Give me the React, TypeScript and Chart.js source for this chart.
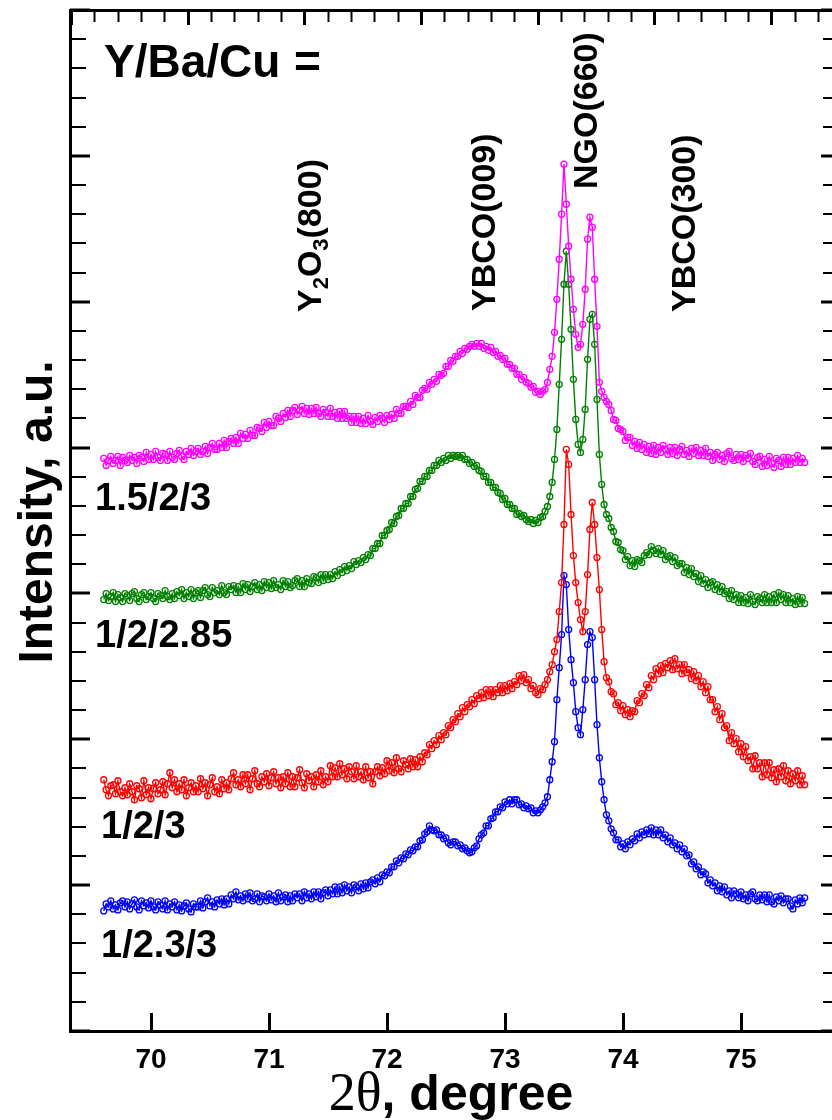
import { useEffect, useRef } from 'react';
import { Chart, registerables } from 'chart.js';

Chart.register(...registerables);

// 2-theta grid (degrees), 0.02 deg step from 69.60 to 75.54
const ANGLE_START = 69.6;
const ANGLE_STEP = 0.02;
const ANGLE_COUNT = 298;
const angles: number[] = Array.from({ length: ANGLE_COUNT }, (_, i) => +(ANGLE_START + i * ANGLE_STEP).toFixed(2));

// Intensity, a.u. (curves offset vertically as in the figure); one row = 0.2 deg
const intensity_1_5_2_3 = [
  572, 565, 570, 574, 567, 570, 574, 565, 573, 570,
  568, 575, 570, 573, 567, 575, 573, 569, 578, 571,
  576, 571, 579, 573, 570, 577, 576, 570, 579, 573,
  571, 577, 580, 574, 571, 579, 576, 582, 575, 579,
  582, 576, 579, 584, 577, 583, 587, 581, 581, 587,
  583, 590, 583, 589, 592, 587, 593, 587, 597, 592,
  596, 592, 600, 595, 595, 603, 602, 599, 608, 603,
  609, 605, 605, 614, 612, 609, 617, 613, 620, 614,
  620, 623, 616, 620, 624, 617, 622, 616, 622, 617,
  623, 617, 614, 621, 618, 614, 622, 614, 618, 612,
  619, 612, 619, 612, 614, 608, 614, 608, 614, 607,
  612, 607, 615, 609, 606, 613, 609, 615, 612, 608,
  615, 611, 616, 612, 621, 617, 617, 624, 624, 623,
  629, 626, 635, 633, 633, 640, 642, 641, 648, 646,
  651, 649, 656, 655, 657, 664, 664, 670, 669, 674,
  674, 679, 677, 682, 681, 684, 686, 684, 687, 684,
  687, 682, 684, 680, 683, 678, 679, 674, 675, 671,
  672, 666, 666, 662, 662, 656, 656, 651, 653, 648,
  647, 643, 644, 638, 639, 636, 639, 641, 648, 661,
  674, 698, 731, 771, 816, 866, 826, 784, 751, 721,
  696, 683, 686, 706, 741, 791, 813, 803, 751, 704,
  648, 639, 633, 629, 626, 620, 611, 610, 602, 601,
  599, 590, 593, 593, 585, 589, 582, 588, 581, 586,
  578, 584, 577, 585, 576, 583, 578, 585, 581, 576,
  583, 577, 583, 575, 581, 584, 576, 580, 574, 582,
  577, 583, 575, 580, 575, 582, 574, 578, 570, 576,
  578, 571, 575, 569, 577, 579, 572, 570, 576, 571,
  576, 569, 575, 572, 577, 569, 566, 573, 574, 564,
  571, 565, 574, 567, 563, 572, 570, 564, 573, 566,
  573, 566, 572, 568, 575, 568, 572, 568,
];

const intensity_1_2_2_85 = [
  431, 437, 430, 434, 438, 429, 436, 433, 429, 437,
  435, 430, 437, 439, 432, 429, 436, 438, 431, 434,
  438, 432, 429, 437, 435, 432, 440, 434, 431, 437,
  432, 439, 435, 441, 432, 438, 434, 441, 432, 438,
  440, 433, 440, 443, 436, 434, 443, 438, 440, 436,
  445, 438, 436, 444, 441, 445, 438, 444, 438, 447,
  441, 446, 439, 444, 448, 441, 446, 440, 449, 443,
  448, 442, 450, 443, 446, 441, 450, 444, 449, 443,
  445, 450, 452, 444, 450, 444, 452, 448, 447, 454,
  453, 448, 456, 450, 456, 451, 456, 452, 459, 455,
  461, 458, 464, 460, 465, 462, 469, 466, 470, 468,
  473, 471, 476, 475, 482, 482, 487, 487, 495, 495,
  500, 501, 508, 507, 514, 515, 522, 522, 527, 527,
  534, 534, 541, 542, 549, 549, 554, 554, 560, 560,
  565, 565, 570, 568, 572, 570, 575, 572, 575, 574,
  575, 573, 575, 571, 571, 567, 568, 564, 565, 560,
  559, 554, 554, 548, 548, 543, 543, 538, 537, 531,
  532, 526, 526, 522, 522, 516, 517, 514, 515, 511,
  509, 511, 507, 510, 508, 513, 514, 519, 524, 534,
  548, 571, 601, 646, 691, 746, 779, 746, 701, 651,
  611, 586, 578, 591, 621, 671, 711, 716, 686, 631,
  576, 546, 526, 516, 512, 503, 499, 489, 488, 481,
  480, 471, 474, 465, 470, 464, 471, 470, 468, 475,
  478, 476, 484, 480, 477, 482, 476, 480, 471, 474,
  475, 469, 473, 465, 467, 467, 458, 463, 456, 462,
  454, 457, 449, 455, 447, 451, 443, 448, 449, 441,
  446, 439, 444, 437, 439, 432, 440, 431, 436, 428,
  435, 428, 433, 427, 436, 429, 426, 434, 432, 428,
  436, 428, 434, 428, 436, 428, 438, 431, 436, 428,
  435, 428, 432, 426, 434, 427, 433, 427,
];

const intensity_1_2_3 = [
  251, 241, 235, 245, 246, 237, 250, 239, 235, 243,
  236, 247, 239, 231, 245, 242, 233, 250, 236, 243,
  232, 242, 248, 237, 241, 249, 236, 247, 258, 243,
  251, 239, 247, 241, 251, 235, 243, 248, 239, 245,
  239, 252, 242, 248, 235, 246, 253, 239, 244, 237,
  251, 242, 248, 241, 252, 258, 246, 251, 244, 256,
  247, 256, 241, 252, 260, 247, 244, 254, 249, 257,
  245, 253, 259, 247, 253, 243, 254, 247, 258, 244,
  254, 244, 253, 261, 248, 243, 257, 250, 254, 244,
  256, 249, 260, 246, 254, 249, 265, 254, 263, 254,
  267, 256, 262, 252, 264, 259, 252, 265, 254, 259,
  251, 264, 253, 259, 247, 259, 264, 255, 263, 257,
  270, 260, 268, 258, 273, 262, 259, 270, 266, 262,
  272, 264, 271, 264, 274, 269, 278, 276, 286, 282,
  290, 286, 295, 291, 298, 296, 305, 303, 311, 309,
  317, 314, 323, 319, 326, 324, 331, 327, 335, 332,
  338, 333, 341, 335, 341, 334, 341, 338, 345, 338,
  345, 340, 347, 342, 349, 346, 355, 350, 356, 348,
  351, 342, 345, 338, 336, 342, 341, 346, 351, 359,
  366, 379, 391, 419, 448, 506, 581, 566, 516, 475,
  448, 428, 411, 399, 419, 456, 501, 528, 506, 473,
  441, 401, 369, 353, 349, 339, 337, 326, 328, 320,
  325, 316, 321, 314, 320, 319, 330, 328, 337, 335,
  346, 343, 355, 351, 362, 357, 365, 358, 367, 363,
  370, 361, 372, 362, 366, 357, 366, 358, 361, 352,
  359, 350, 355, 344, 349, 338, 344, 331, 331, 319,
  324, 311, 317, 303, 305, 290, 298, 287, 292, 279,
  287, 274, 284, 270, 274, 262, 275, 262, 268, 254,
  268, 256, 268, 253, 261, 249, 262, 254, 265, 250,
  260, 247, 257, 250, 260, 246, 255, 246,
];

const intensity_1_2_3_3 = [
  120, 127, 124, 130, 122, 126, 121, 128, 130, 124,
  129, 122, 127, 131, 124, 121, 130, 125, 128, 123,
  130, 124, 121, 129, 126, 122, 130, 121, 127, 124,
  129, 121, 126, 120, 125, 128, 122, 119, 127, 124,
  124, 130, 123, 129, 133, 125, 129, 124, 131, 127,
  132, 126, 132, 127, 136, 132, 139, 131, 135, 130,
  137, 132, 138, 130, 132, 137, 129, 135, 134, 130,
  137, 131, 135, 129, 138, 130, 134, 136, 129, 135,
  130, 137, 133, 137, 130, 139, 133, 137, 132, 139,
  134, 139, 132, 138, 141, 135, 141, 137, 144, 137,
  144, 138, 146, 140, 144, 138, 146, 144, 140, 147,
  142, 148, 143, 149, 151, 147, 153, 149, 156, 155,
  159, 158, 164, 164, 170, 168, 173, 172, 177, 176,
  181, 180, 184, 184, 190, 191, 197, 199, 205, 201,
  200, 201, 196, 196, 192, 193, 188, 186, 189, 189,
  185, 186, 182, 183, 180, 178, 179, 183, 185, 192,
  196, 198, 205, 205, 212, 213, 219, 219, 224, 223,
  229, 227, 231, 227, 231, 231, 226, 227, 223, 225,
  222, 223, 218, 220, 218, 221, 224, 228, 234, 251,
  269, 289, 331, 363, 396, 455, 446, 401, 371, 348,
  319, 303, 296, 321, 351, 386, 399, 393, 351, 306,
  273, 249, 231, 216, 210, 202, 198, 191, 191, 184,
  187, 182, 189, 186, 192, 190, 197, 193, 199, 196,
  201, 197, 203, 196, 201, 196, 201, 193, 196, 189,
  193, 186, 188, 182, 186, 179, 182, 175, 176, 167,
  169, 162, 164, 156, 159, 157, 148, 151, 145, 148,
  140, 145, 139, 144, 136, 140, 133, 140, 137, 133,
  139, 132, 136, 130, 137, 139, 132, 130, 136, 131,
  136, 129, 136, 129, 127, 134, 130, 135, 128, 132,
  132, 125, 122, 131, 127, 133, 128, 133,
];

const seriesLabels = ['1.5/2/3', '1/2/2.85', '1/2/3', '1/2.3/3'];
const seriesColors = ['#ff00ff', '#008000', '#ff0000', '#0000ff'];
const seriesValues = [intensity_1_5_2_3, intensity_1_2_2_85, intensity_1_2_3, intensity_1_2_3_3];

const xTickValues = [70, 71, 72, 73, 74, 75];
const X_MIN = 69.314;
const X_MAX = 75.78;
const Y_MIN = 0;
const Y_MAX = 1020;
const Y_MINOR_DIVS = 35;
const TOP_MIN = -1.0086;
const TOP_MAX = 5.5297;

const SANS = '"Liberation Sans", Arial, sans-serif';
const SERIF = '"Liberation Serif", "Times New Roman", serif';

const innerTicks = {
  id: 'innerTicks',
  afterDraw(chart: any) {
    const { ctx, chartArea: a, scales } = chart;
    ctx.save();
    ctx.strokeStyle = '#000';
    const seg = (x1: number, y1: number, x2: number, y2: number, w: number) => {
      ctx.lineWidth = w;
      ctx.beginPath();
      ctx.moveTo(x1, y1);
      ctx.lineTo(x2, y2);
      ctx.stroke();
    };
    scales.x.ticks.forEach((t: any) => {
      const px = Math.round(scales.x.getPixelForValue(t.value)) + 0.5;
      seg(px, a.bottom, px, a.bottom - 18, 3);
    });
    scales.x2.ticks.forEach((t: any) => {
      const major = Math.abs(t.value - Math.round(t.value)) < 1e-6;
      const px = Math.round(scales.x2.getPixelForValue(t.value)) + 0.5;
      seg(px, a.top, px, a.top + (major ? 15 : 12), major ? 3 : 2);
    });
    scales.y.ticks.forEach((t: any, i: number) => {
      const major = i % 5 === 0;
      const py = Math.round(scales.y.getPixelForValue(t.value));
      seg(a.left, py, a.left + (major ? 20 : 16), py, major ? 3 : 2);
    });
    scales.y2.ticks.forEach((t: any, i: number) => {
      const major = i % 5 === 0;
      const py = Math.round(scales.y2.getPixelForValue(t.value));
      seg(a.right, py, a.right - (major ? 12 : 10), py, major ? 3 : 2);
    });
    ctx.restore();
  },
};

type Part = { text: string; size: number; dy: number };

function drawRotated(ctx: CanvasRenderingContext2D, x: number, y: number, parts: Part[]) {
  ctx.save();
  ctx.translate(x, y);
  ctx.rotate(-Math.PI / 2);
  ctx.textAlign = 'left';
  ctx.textBaseline = 'alphabetic';
  let cx = 0;
  for (const p of parts) {
    ctx.font = `bold ${p.size}px ${SANS}`;
    ctx.fillText(p.text, cx, p.dy);
    cx += ctx.measureText(p.text).width;
  }
  ctx.restore();
}

const annotations = {
  id: 'annotations',
  afterDraw(chart: any) {
    const ctx: CanvasRenderingContext2D = chart.ctx;
    ctx.save();
    ctx.fillStyle = '#000';
    ctx.textAlign = 'left';
    ctx.textBaseline = 'alphabetic';

    ctx.font = `bold 46px ${SANS}`;
    ctx.fillText('Y/Ba/Cu', 104, 77);
    ctx.fillText('=', 294, 77);

    ctx.font = `bold 38px ${SANS}`;
    ctx.fillText(seriesLabels[0], 95, 510);
    ctx.fillText(seriesLabels[1], 95, 647);
    ctx.fillText(seriesLabels[2], 101, 838);
    ctx.fillText(seriesLabels[3], 101, 957);

    drawRotated(ctx, 321, 312, [
      { text: 'Y', size: 34, dy: 0 },
      { text: '2', size: 22, dy: 7 },
      { text: 'O', size: 34, dy: 0 },
      { text: '3', size: 22, dy: 7 },
      { text: '(800)', size: 34, dy: 0 },
    ]);
    drawRotated(ctx, 495, 311, [{ text: 'YBCO(009)', size: 34, dy: 0 }]);
    drawRotated(ctx, 597, 189, [{ text: 'NGO(660)', size: 34, dy: 0 }]);
    drawRotated(ctx, 695, 312, [{ text: 'YBCO(300)', size: 34, dy: 0 }]);

    // y-axis title
    ctx.save();
    ctx.translate(52, 512);
    ctx.rotate(-Math.PI / 2);
    ctx.textAlign = 'center';
    ctx.font = `bold 48px ${SANS}`;
    ctx.fillText('Intensity, a.u.', 0, 0);
    ctx.restore();

    // x-axis title: serif "2θ" + bold sans ", degree"
    const p1 = '2\u03b8';
    const p2 = ', degree';
    const f1 = `54px ${SERIF}`;
    const f2 = `bold 50px ${SANS}`;
    ctx.font = f1;
    const w1 = ctx.measureText(p1).width;
    ctx.font = f2;
    const w2 = ctx.measureText(p2).width;
    const x0 = 451 - (w1 + w2) / 2;
    ctx.font = f1;
    ctx.fillText(p1, x0, 1110);
    ctx.font = f2;
    ctx.fillText(p2, x0 + w1, 1110);
    ctx.restore();
  },
};

export default function App() {
  const ref = useRef<HTMLCanvasElement | null>(null);

  useEffect(() => {
    if (!ref.current) return;
    const datasets = seriesValues.map((vals, s) => ({
      label: seriesLabels[s],
      data: angles.map((x, i) => ({ x, y: vals[i] })),
      borderColor: seriesColors[s],
      borderWidth: 1.4,
      pointStyle: 'circle' as const,
      pointRadius: 3,
      pointBorderWidth: 1.3,
      pointBorderColor: seriesColors[s],
      pointBackgroundColor: 'rgba(0,0,0,0)',
      tension: 0,
      fill: false,
      xAxisID: 'x',
      yAxisID: 'y',
    }));

    const hiddenGrid = { display: false, drawTicks: false };
    const frame = { display: true, width: 3, color: '#000' };
    const yTicks = (scale: any) => {
      scale.ticks = Array.from({ length: Y_MINOR_DIVS + 1 }, (_, k) => ({ value: (k * Y_MAX) / Y_MINOR_DIVS }));
    };

    const chart = new Chart(ref.current, {
      type: 'line',
      data: { datasets },
      plugins: [innerTicks, annotations],
      options: {
        animation: false,
        responsive: false,
        maintainAspectRatio: false,
        devicePixelRatio: 1,
        layout: { padding: 0 },
        plugins: { legend: { display: false }, tooltip: { enabled: false } },
        scales: {
          x: {
            type: 'linear',
            position: 'bottom',
            min: X_MIN,
            max: X_MAX,
            grid: hiddenGrid,
            border: frame,
            afterBuildTicks: (scale: any) => {
              scale.ticks = xTickValues.map((v) => ({ value: v }));
            },
            afterFit: (scale: any) => {
              scale.height = 89;
            },
            ticks: {
              autoSkip: false,
              maxRotation: 0,
              padding: 12,
              color: '#000',
              font: { family: SANS, size: 28, weight: 'bold' },
              callback: (v: any) => String(v),
            },
          },
          x2: {
            type: 'linear',
            position: 'top',
            min: TOP_MIN,
            max: TOP_MAX,
            grid: hiddenGrid,
            border: frame,
            ticks: { display: false },
            afterBuildTicks: (scale: any) => {
              scale.ticks = Array.from({ length: 33 }, (_, k) => ({ value: -1 + k * 0.2 }));
            },
            afterFit: (scale: any) => {
              scale.height = 10;
            },
          },
          y: {
            type: 'linear',
            position: 'left',
            min: Y_MIN,
            max: Y_MAX,
            grid: hiddenGrid,
            border: frame,
            ticks: { display: false },
            afterBuildTicks: yTicks,
            afterFit: (scale: any) => {
              scale.width = 70;
            },
          },
          y2: {
            type: 'linear',
            position: 'right',
            min: Y_MIN,
            max: Y_MAX,
            grid: hiddenGrid,
            border: frame,
            ticks: { display: false },
            afterBuildTicks: yTicks,
            afterFit: (scale: any) => {
              scale.width = 7;
            },
          },
        },
      } as any,
    });
    return () => chart.destroy();
  }, []);

  return (
    <div
      style={{
        position: 'fixed',
        left: 0,
        top: 0,
        width: 832,
        height: 1120,
        overflow: 'hidden',
        background: '#fff',
      }}
    >
      <canvas ref={ref} width={840} height={1120} style={{ display: 'block', width: 840, height: 1120 }} />
    </div>
  );
}
